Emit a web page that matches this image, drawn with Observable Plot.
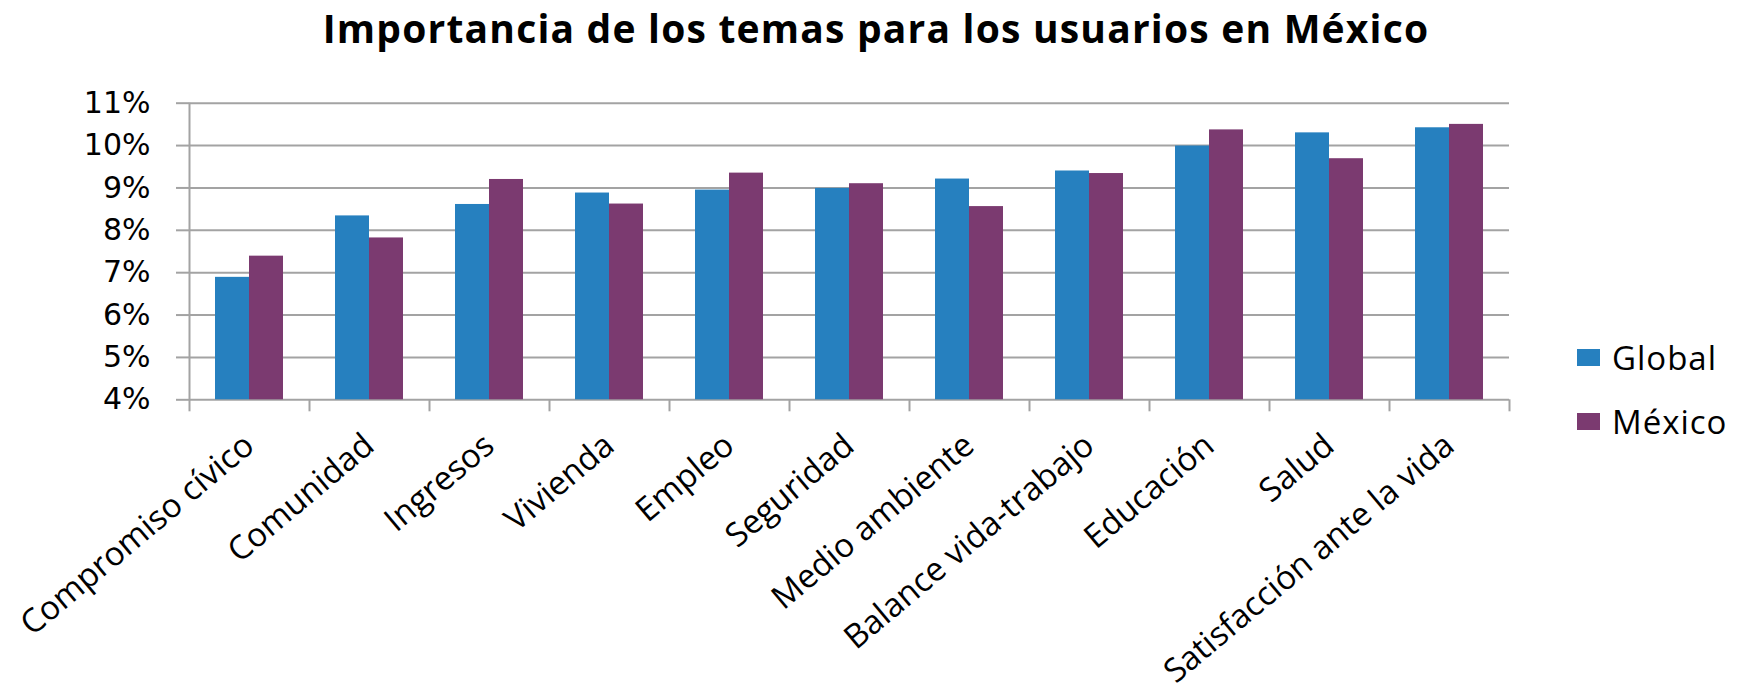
<!DOCTYPE html>
<html><head><meta charset="utf-8">
<script src="https://cdn.jsdelivr.net/npm/d3@7"></script>
<script src="https://cdn.jsdelivr.net/npm/@observablehq/plot@0.6"></script>
<style>
body{margin:0;background:#fff;width:1743px;height:692px;overflow:hidden;position:relative;font-family:"Open Sans",sans-serif;color:#000}
#title{height:60px;box-sizing:border-box;padding-top:8px;padding-left:9px;text-align:center;font-size:39px;letter-spacing:1.2px;line-height:1;font-weight:700;white-space:nowrap}
#chart svg{display:block}
.leg{position:absolute;left:1577px;display:flex;align-items:center;font-size:33px;letter-spacing:1px;line-height:1}
.leg .sw{width:23px;height:17px;margin-right:12px}
</style></head><body>
<div id="title">Importancia de los temas para los usuarios en México</div>
<div id="chart"></div>
<div id="legend"></div>
<script>
const categories = ["Compromiso cívico","Comunidad","Ingresos","Vivienda","Empleo","Seguridad","Medio ambiente","Balance vida-trabajo","Educación","Salud","Satisfacción ante la vida"];
const seriesNames = ["Global","México"];
const globalValues = [0.0689,0.0834,0.0861,0.0888,0.0895,0.0899,0.0921,0.0940,0.0999,0.1030,0.1042];
const mexicoValues = [0.0739,0.0782,0.0920,0.0862,0.0935,0.0910,0.0856,0.0934,0.1037,0.0969,0.1050];
const seriesColors = ["#2680bf","#7b3a70"];
const yTicks = [0.04,0.05,0.06,0.07,0.08,0.09,0.10,0.11];

const gridColor = "#a3a3a3";
const yMin = yTicks[0], yMax = yTicks[yTicks.length-1];
const idx = categories.map((c,i)=>i);
const boundaries = idx.concat([categories.length]);
const centers = idx.map(i=>i+0.5);
const rowsG = idx.map(i=>({i, series:seriesNames[0], value:globalValues[i]}));
const rowsM = idx.map(i=>({i, series:seriesNames[1], value:mexicoValues[i]}));

const plot = Plot.plot({
  width:1743, height:632,
  marginTop:42.7, marginBottom:292.7, marginLeft:189, marginRight:234,
  x:{type:"linear", domain:[0, categories.length]},
  y:{domain:[yMin, yMax]},
  color:{domain:seriesNames, range:seriesColors},
  style:{fontFamily:"'Open Sans', sans-serif", background:"#fff", color:"#000", overflow:"visible"},
  marks:[
    Plot.ruleY(yTicks, {stroke:gridColor, strokeWidth:2}),
    Plot.axisY({ticks:yTicks, tickSize:13, tickPadding:26, tickFormat:d=>Math.round(d*100)+"%", stroke:gridColor, strokeWidth:2, fill:"#000", fontSize:30, fontFamily:"DejaVu Sans", label:null}),
    Plot.ruleX([0], {y1:yMin, y2:yMax, stroke:gridColor, strokeWidth:2}),
    Plot.axisX({ticks:boundaries, tickSize:12, tickFormat:()=>"", stroke:gridColor, strokeWidth:2, label:null}),
    Plot.axisX({ticks:centers, tickSize:0, tickPadding:41, tickFormat:v=>categories[Math.floor(v)], tickRotate:-40, fontSize:33, fill:"#000", label:null}),
    Plot.rectY(rowsG, {x1:"i", x2:d=>d.i+1, y1:()=>yMin, y2:"value", fill:"series", insetLeft:26, insetRight:60}),
    Plot.rectY(rowsM, {x1:"i", x2:d=>d.i+1, y1:()=>yMin, y2:"value", fill:"series", insetLeft:60, insetRight:26})
  ]
});
document.getElementById("chart").appendChild(plot);

const legend = document.getElementById("legend");
const legTops = [341, 405];
seriesNames.forEach((s,k)=>{
  const d = document.createElement("div");
  d.className = "leg";
  d.style.top = legTops[k] + "px";
  d.innerHTML = `<div class="sw" style="background:${seriesColors[k]}"></div><span>${s}</span>`;
  legend.appendChild(d);
});
</script>
</body></html>
